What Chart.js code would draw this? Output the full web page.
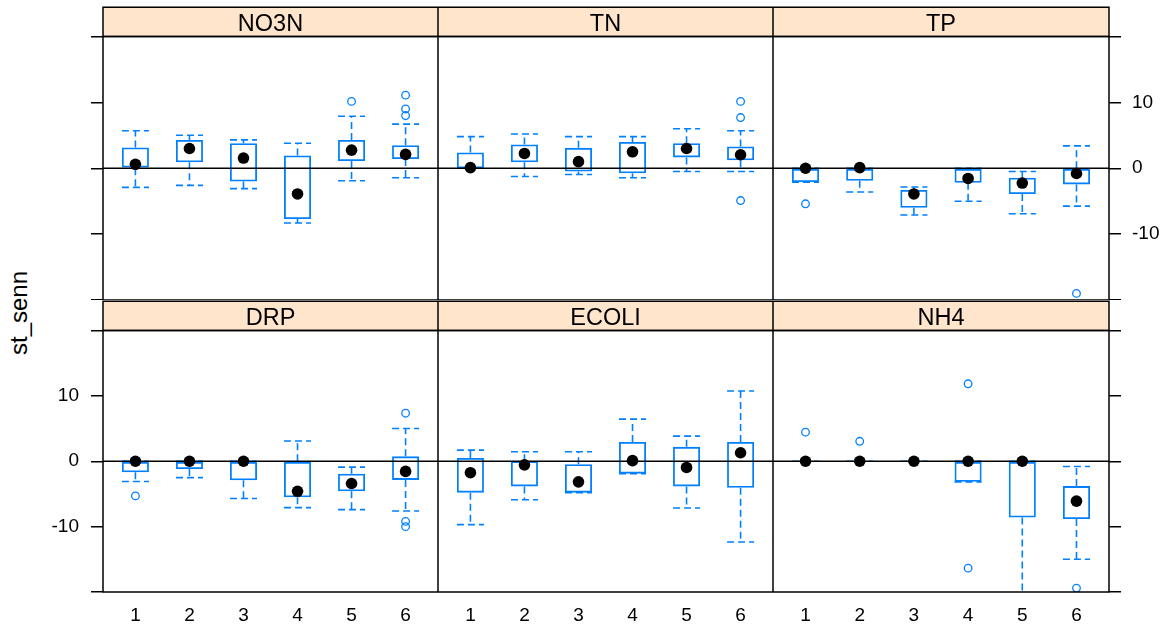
<!DOCTYPE html>
<html>
<head>
<meta charset="utf-8">
<script src="https://cdn.jsdelivr.net/npm/chart.js@4.4.1/dist/chart.umd.min.js"></script>
<style>
  html, body { margin: 0; padding: 0; background: #fff; }
  #wrap { position: relative; width: 1166px; height: 628px; overflow: hidden; }
  #wrap canvas { position: absolute; }
  #ylab {
    position: absolute; left: 19px; top: 313px;
    transform: translate(-50%, -50%) rotate(-90deg);
    font: 24px 'Liberation Sans', Arial, sans-serif; color: #000; white-space: nowrap;
  }
</style>
</head>
<body>
<div id="wrap"><div id="ylab">st_senn</div></div>
<script>
// ---- data (one row per panel, one column per group) ----
const panelNames = ['NO3N', 'TN', 'TP', 'DRP', 'ECOLI', 'NH4'];
const groups = [1, 2, 3, 4, 5, 6];
const yTicks = [-20, -10, 0, 10, 20];

const whiskerLow = [
  [-2.9, -2.6, -3.1, -8.3, -1.9, -1.45],
  [0, -1.25, -0.95, -1.45, -0.5, -0.5],
  [-2.1, -3.6, -7.1, -5.0, -6.9, -5.75],
  [-3.1, -2.5, -5.7, -7.1, -7.4, -7.6],
  [-9.7, -5.9, -4.8, -1.9, -7.15, -12.35],
  [0, 0, 0, -3.15, -21, -15.0],
];
const hingeLow = [
  [0, 0.9, -2.0, -7.7, 1.1, 1.4],
  [0, 0.9, -0.5, -0.75, 1.65, 1.2],
  [-2.1, -1.9, -6.0, -2.2, -3.9, -2.45],
  [-1.7, -1.2, -2.9, -5.5, -4.6, -2.85],
  [-4.8, -3.85, -4.8, -1.9, -3.85, -4.05],
  [0, 0, 0, -3.15, -8.6, -8.85],
];
const medians = [
  [0.6, 3.0, 1.55, -3.9, 2.75, 2.1],
  [0.1, 2.25, 1.0, 2.5, 3.0, 2.05],
  [0, 0.1, -3.9, -1.55, -2.25, -0.8],
  [0, 0, 0, -4.6, -3.4, -1.55],
  [-1.75, -0.55, -3.15, 0.1, -0.95, 1.3],
  [0, 0, 0, 0, 0, -6.1],
];
const hingeHigh = [
  [3.16, 4.3, 3.8, 1.95, 4.3, 3.5],
  [2.4, 3.6, 3.1, 4.0, 3.8, 3.3],
  [0, 0, -3.3, 0, -1.45, 0],
  [0, 0, 0, 0, -1.9, 0.75],
  [0.5, 0, -0.45, 2.95, 2.2, 2.95],
  [0, 0, 0, 0, 0, -3.8],
];
const whiskerHigh = [
  [5.7, 5.0, 4.3, 3.8, 7.9, 6.7],
  [4.8, 5.2, 4.8, 4.8, 6.0, 5.7],
  [0, 0, -2.85, 0, -0.5, 3.4],
  [0, 0, 0, 3.1, -0.9, 5.0],
  [1.7, 1.45, 1.45, 6.45, 3.85, 10.75],
  [0, 0, 0, 0, 0, -0.8],
];
// [group, value]
const outliers = [
  [[5, 10.15], [6, 11.1], [6, 9.0], [6, 8.0]],
  [[6, 10.15], [6, 7.7], [6, -4.9]],
  [[1, -5.4], [6, -19.0]],
  [[1, -5.3], [6, 7.35], [6, -9.2], [6, -10.0]],
  [],
  [[1, 4.45], [2, 3.05], [4, 11.85], [4, -16.35], [6, -19.4]],
];

// ---- layout / style ----
const X_MIN = 0.4, X_MAX = 6.6, Y_MIN = -20, Y_MAX = 20;
const BOX_W = 0.5;
const BLUE = '#0080ff';
const STRIP_BG = '#ffe5cc';
const STRIP_H = 30;
const FONT = "'Liberation Sans', Arial, sans-serif";
const colEdges = [103, 438, 773, 1109];
const rowTops = [36, 330];
const rowBottoms = [300, 592];

const panelFrame = {
  id: 'panelFrame',
  beforeDraw(chart) {
    const a = chart.chartArea, ctx = chart.ctx;
    ctx.save();
    ctx.fillStyle = STRIP_BG;
    ctx.fillRect(a.left, a.top - STRIP_H, a.right - a.left, STRIP_H);
    ctx.restore();
  },
  afterDraw(chart) {
    const a = chart.chartArea, ctx = chart.ctx;
    ctx.save();
    ctx.strokeStyle = '#000';
    ctx.lineWidth = 1.5;
    ctx.strokeRect(a.left, a.top - STRIP_H + 0.75, a.right - a.left, STRIP_H - 0.75);
    ctx.strokeRect(a.left, a.top, a.right - a.left, a.bottom - a.top);
    ctx.restore();
  }
};

function whiskerData(p) {
  const pts = [];
  groups.forEach((g, j) => {
    pts.push({x: g, y: hingeLow[p][j]}, {x: g, y: whiskerLow[p][j]}, {x: g, y: null});
    pts.push({x: g, y: hingeHigh[p][j]}, {x: g, y: whiskerHigh[p][j]}, {x: g, y: null});
  });
  return pts;
}

function capData(p) {
  const pts = [];
  groups.forEach((g, j) => {
    [whiskerLow[p][j], whiskerHigh[p][j]].forEach(v => {
      pts.push({x: g - BOX_W / 2, y: v}, {x: g + BOX_W / 2, y: v}, {x: g, y: null});
    });
  });
  return pts;
}

function makePanel(p) {
  const row = p < 3 ? 0 : 1, col = p % 3;
  const left = col === 0 ? 0 : colEdges[col];
  const right = col === 2 ? 1166 : colEdges[col + 1];
  const top = rowTops[row] - STRIP_H;
  const bottom = row === 1 ? 628 : rowBottoms[row];

  const canvas = document.createElement('canvas');
  canvas.width = right - left;
  canvas.height = bottom - top;
  canvas.style.left = left + 'px';
  canvas.style.top = top + 'px';
  document.getElementById('wrap').appendChild(canvas);

  const showYLabels = (col === 0 && row === 1) || (col === 2 && row === 0);
  const yAxisWidth = col === 0 ? colEdges[0] : col === 2 ? 1166 - colEdges[3] : 0;

  new Chart(canvas.getContext('2d'), {
    type: 'bar',
    data: {
      datasets: [
        { type: 'scatter', order: 0,
          data: groups.map((g, j) => ({x: g, y: medians[p][j]})),
          pointRadius: 5.8, pointBackgroundColor: '#000', pointBorderWidth: 0 },
        { type: 'line', order: 1,
          data: [{x: X_MIN, y: 0}, {x: X_MAX, y: 0}],
          borderColor: '#000', borderWidth: 1.4, pointRadius: 0 },
        { type: 'scatter', order: 2,
          data: outliers[p].map(o => ({x: o[0], y: o[1]})),
          pointStyle: 'circle', pointRadius: 3.8, pointBorderColor: BLUE,
          pointBorderWidth: 1.3, pointBackgroundColor: 'rgba(0,0,0,0)' },
        { type: 'line', order: 3, data: capData(p),
          borderColor: BLUE, borderWidth: 1.6, borderDash: [7, 4], pointRadius: 0, spanGaps: false },
        { type: 'line', order: 3, data: whiskerData(p),
          borderColor: BLUE, borderWidth: 1.6, borderDash: [7, 4], pointRadius: 0, spanGaps: false },
        { type: 'bar', order: 5,
          data: groups.map((g, j) => ({x: g, y: [hingeLow[p][j], hingeHigh[p][j]]})),
          backgroundColor: 'rgba(0,0,0,0)', borderColor: BLUE, borderWidth: 1.8,
          borderSkipped: false, barPercentage: BOX_W, categoryPercentage: 1 },
      ]
    },
    options: {
      responsive: false, animation: false, events: [],
      layout: { padding: 0, autoPadding: false },
      plugins: {
        legend: { display: false },
        tooltip: { enabled: false },
        title: {
          display: true, text: panelNames[p], fullSize: false, color: '#000',
          font: { family: FONT, size: 23.5, weight: 'normal', lineHeight: 1 },
          padding: { top: 6.5, bottom: 0.5 }
        }
      },
      scales: {
        x: {
          type: 'linear', min: X_MIN, max: X_MAX, offset: false,
          display: row === 1,
          grid: { display: false, drawTicks: false, offset: false },
          border: { display: false },
          afterBuildTicks: s => { s.ticks = groups.map(v => ({value: v})); },
          afterFit: s => { s.height = row === 1 ? 36 : 0; s.paddingLeft = 0; s.paddingRight = 0; },
          ticks: { padding: 12, autoSkip: false, maxRotation: 0, color: '#000',
                   font: { family: FONT, size: 19 } }
        },
        y: {
          type: 'linear', min: Y_MIN, max: Y_MAX,
          display: col !== 1,
          position: col === 2 ? 'right' : 'left',
          grid: { drawOnChartArea: false, drawTicks: true, tickLength: 12, color: '#000', lineWidth: 1.5 },
          border: { display: false },
          afterBuildTicks: s => { s.ticks = yTicks.map(v => ({value: v})); },
          afterFit: s => { s.width = yAxisWidth; s.paddingTop = 0; s.paddingBottom = 0; },
          ticks: {
            padding: col === 2 ? 11 : 12, color: '#000',
            font: { family: FONT, size: 19 },
            callback: v => (showYLabels && Math.abs(v) < Y_MAX) ? String(v) : ''
          }
        }
      }
    },
    plugins: [panelFrame]
  });
}

panelNames.forEach((_, p) => makePanel(p));
</script>
</body>
</html>
